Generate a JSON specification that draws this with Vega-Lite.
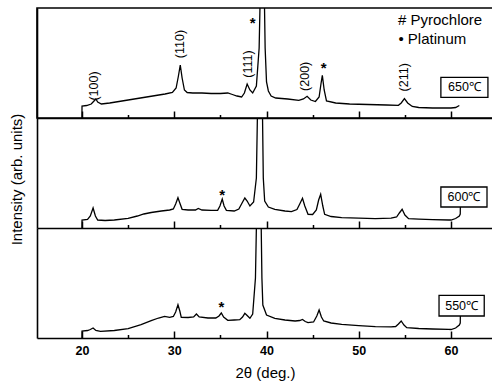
{
  "$schema": "https://vega.github.io/schema/vega-lite/v6.json",
  "padding": {"left": 8, "top": 7, "right": 0, "bottom": 0},
  "spacing": 0,
  "bounds": "flush",
  "config": {
    "font": "Liberation Sans",
    "view": {"stroke": null},
    "axis": {"labelFont": "Liberation Sans", "titleFont": "Liberation Sans", "grid": false}
  },
  "datasets": {
    "s650": [
      {"x":19.99,"y":0},{"x":20.0,"y":12},{"x":20.5,"y":12.5},{"x":21.0,"y":14},{"x":21.3,"y":17},{"x":21.5,"y":19},{"x":21.7,"y":16},{"x":22.1,"y":14},
      {"x":23,"y":15},{"x":24,"y":16.5},{"x":25,"y":18},{"x":26,"y":19.5},{"x":27,"y":21},{"x":28,"y":22.5},{"x":29,"y":24},{"x":29.8,"y":25.5},
      {"x":30.2,"y":30},{"x":30.45,"y":42},{"x":30.65,"y":53},{"x":30.85,"y":40},{"x":31.1,"y":28},{"x":31.4,"y":25.5},{"x":32,"y":25},{"x":33,"y":25},
      {"x":34,"y":24.5},{"x":35,"y":24.5},{"x":35.8,"y":25},{"x":36.3,"y":23.5},{"x":36.8,"y":22},{"x":37.3,"y":21},{"x":37.6,"y":25},{"x":37.9,"y":34},
      {"x":38.2,"y":28},{"x":38.5,"y":25},{"x":38.9,"y":32},{"x":39.2,"y":70},{"x":39.4,"y":160},{"x":39.55,"y":170},{"x":39.7,"y":160},{"x":39.85,"y":70},
      {"x":40.0,"y":36},{"x":40.2,"y":27},{"x":40.5,"y":22},{"x":41,"y":20},{"x":42.3,"y":19},{"x":43.5,"y":17.7},{"x":44.0,"y":19},{"x":44.4,"y":21.7},
      {"x":44.8,"y":18},{"x":45.3,"y":16.5},{"x":45.7,"y":21},{"x":45.9,"y":34},{"x":46.05,"y":42.7},{"x":46.25,"y":28},{"x":46.5,"y":17},{"x":47.5,"y":15},
      {"x":49,"y":14},{"x":51,"y":13.5},{"x":53,"y":13},{"x":54.3,"y":12.7},{"x":54.6,"y":15},{"x":54.95,"y":19.5},{"x":55.3,"y":15},{"x":55.8,"y":11.5},
      {"x":56.5,"y":10.5},{"x":58,"y":10},{"x":60,"y":10},{"x":60.5,"y":10.5},{"x":60.9,"y":12.5}
    ],
    "s600": [
      {"x":19.99,"y":0},{"x":20.0,"y":8},{"x":20.6,"y":8.5},{"x":20.9,"y":12},{"x":21.2,"y":20},{"x":21.45,"y":12},{"x":21.7,"y":8},{"x":22.5,"y":7.5},
      {"x":23.5,"y":8},{"x":25,"y":9.7},{"x":26,"y":12},{"x":26.7,"y":14},{"x":27.5,"y":15.5},{"x":28.6,"y":17},{"x":29.5,"y":18},{"x":29.9,"y":19},
      {"x":30.15,"y":24},{"x":30.4,"y":30.3},{"x":30.6,"y":25},{"x":30.85,"y":18.7},{"x":31.5,"y":18},{"x":32.3,"y":18},{"x":32.6,"y":19.5},{"x":33,"y":18},
      {"x":34,"y":17.7},{"x":34.7,"y":17.7},{"x":34.95,"y":22},{"x":35.2,"y":29},{"x":35.4,"y":22},{"x":35.65,"y":17.7},{"x":36.5,"y":17},{"x":37.0,"y":19},
      {"x":37.35,"y":25},{"x":37.65,"y":30},{"x":37.9,"y":27},{"x":38.2,"y":22},{"x":38.6,"y":26},{"x":38.9,"y":50},{"x":39.1,"y":160},{"x":39.3,"y":170},
      {"x":39.5,"y":160},{"x":39.65,"y":50},{"x":39.8,"y":27},{"x":40.2,"y":21},{"x":40.9,"y":18.7},{"x":42,"y":17},{"x":42.7,"y":16.3},{"x":43.3,"y":18.5},
      {"x":43.6,"y":24},{"x":43.9,"y":29.7},{"x":44.15,"y":22},{"x":44.5,"y":13.7},{"x":45.0,"y":13.5},{"x":45.4,"y":18},{"x":45.65,"y":28},{"x":45.87,"y":33.7},
      {"x":46.1,"y":22},{"x":46.3,"y":13.7},{"x":47,"y":11.5},{"x":48.15,"y":10.3},{"x":50,"y":9.8},{"x":51.8,"y":9.3},{"x":53.5,"y":9.8},{"x":54.1,"y":11},
      {"x":54.4,"y":15},{"x":54.7,"y":18.7},{"x":55.0,"y":13},{"x":55.4,"y":9.3},{"x":56.5,"y":8.8},{"x":58,"y":8.4},{"x":59.75,"y":8},{"x":60.0,"y":8},
      {"x":60.5,"y":9.5},{"x":60.9,"y":12},{"x":61.0,"y":14},{"x":61.01,"y":21}
    ],
    "s550": [
      {"x":19.99,"y":0},{"x":20.0,"y":7},{"x":20.6,"y":7.5},{"x":20.9,"y":8.5},{"x":21.2,"y":10},{"x":21.5,"y":7.5},{"x":22,"y":6.7},{"x":23.5,"y":7.5},
      {"x":25,"y":9.3},{"x":26.4,"y":13.3},{"x":27.5,"y":17.3},{"x":28.3,"y":20},{"x":28.95,"y":21.7},{"x":29.5,"y":20.7},{"x":29.9,"y":21.5},{"x":30.15,"y":26},
      {"x":30.4,"y":33.3},{"x":30.6,"y":27},{"x":30.76,"y":20.7},{"x":31.5,"y":20.5},{"x":32.1,"y":21},{"x":32.4,"y":24},{"x":32.7,"y":21},{"x":33.65,"y":20},
      {"x":34.5,"y":20},{"x":34.85,"y":22},{"x":35.1,"y":25},{"x":35.35,"y":21},{"x":35.8,"y":17.7},{"x":36.5,"y":18},{"x":37.1,"y":18.3},{"x":37.4,"y":21},
      {"x":37.65,"y":24.7},{"x":37.9,"y":22.5},{"x":38.2,"y":19.7},{"x":38.5,"y":24},{"x":38.8,"y":60},{"x":39.0,"y":160},{"x":39.15,"y":170},{"x":39.35,"y":160},
      {"x":39.5,"y":60},{"x":39.6,"y":33},{"x":40.0,"y":23},{"x":40.9,"y":19.7},{"x":42,"y":18},{"x":43.1,"y":17},{"x":43.6,"y":17.5},{"x":43.9,"y":18.5},
      {"x":44.2,"y":16.5},{"x":44.5,"y":15.3},{"x":45.1,"y":16},{"x":45.45,"y":22},{"x":45.7,"y":28},{"x":45.95,"y":21},{"x":46.2,"y":17},{"x":47,"y":15},
      {"x":48.15,"y":13.7},{"x":50,"y":12.3},{"x":51.8,"y":11.3},{"x":53.5,"y":11.2},{"x":54.0,"y":11.5},{"x":54.3,"y":14},{"x":54.6,"y":17},{"x":54.9,"y":13},
      {"x":55.2,"y":10.3},{"x":56.5,"y":9.5},{"x":58,"y":9},{"x":59.75,"y":8.7},{"x":60.0,"y":8.5},{"x":60.5,"y":10},{"x":60.9,"y":13},{"x":61.0,"y":15},{"x":61.01,"y":22}
    ],
    "hkl": [
      {"x":21.3,"y":32,"t":"(100)"},{"x":30.62,"y":74,"t":"(110)"},{"x":37.95,"y":54,"t":"(111)"},{"x":44.2,"y":41.7,"t":"(200)"},{"x":54.85,"y":40.7,"t":"(211)"}
    ],
    "star650": [{"x":38.5,"y":99.4,"t":"*"},{"x":46.2,"y":53.7,"t":"*"}],
    "star600": [{"x":35.2,"y":37,"t":"*"}],
    "star550": [{"x":35.1,"y":35,"t":"*"}],
    "legend": [{"x":54.25,"y":97.7,"t":"# Pyrochlore"},{"x":54.3,"y":78.7,"t":"•  Platinum"}],
    "box650": [{"x":58.9,"x2":64.0,"y":20.7,"y2":40.7,"xm":61.45,"ym":30.7,"t":"650℃"}],
    "box600": [{"x":58.9,"x2":63.9,"y":21,"y2":41,"xm":61.4,"ym":31,"t":"600℃"}],
    "box550": [{"x":58.7,"x2":63.6,"y":22,"y2":42.7,"xm":61.15,"ym":32.35,"t":"550℃"}]
  },
  "vconcat": [
    {
      "width": 456, "height": 110,
      "view": {"stroke": "black", "strokeWidth": 1.6},
      "resolve": {"axis": {"x": "independent"}},
      "layer": [
        {"data": {"name": "s650"}, "mark": {"type": "line", "color": "black", "strokeWidth": 1.3, "clip": true},
         "encoding": {
           "x": {"field": "x", "type": "quantitative", "scale": {"domain": [15.12, 64.55], "nice": false, "zero": false},
                 "axis": {"orient": "bottom", "values": [20,30,40,50,60], "tickSize": -7, "tickWidth": 1.5, "tickColor": "black", "domainColor": "black", "domainWidth": 1.6, "labels": false, "title": null}},
           "y": {"field": "y", "type": "quantitative", "scale": {"domain": [0, 110], "nice": false, "zero": false},
                 "axis": {"title": null, "labels": false, "ticks": false, "domainColor": "black", "domainWidth": 1.6}}}},
        {"data": {"name": "box650"}, "mark": {"type": "rect", "fill": "white", "stroke": "black", "strokeWidth": 1.3},
         "encoding": {
           "x": {"field": "x", "type": "quantitative", "axis": {"orient": "bottom", "values": [25,35,45,55], "tickSize": -3.5, "tickWidth": 1.5, "tickColor": "black", "domain": false, "labels": false, "title": null}},
           "x2": {"field": "x2"},
           "y": {"field": "y", "type": "quantitative"}, "y2": {"field": "y2"}}},
        {"data": {"name": "box650"}, "mark": {"type": "text", "fontSize": 12.5, "color": "black", "align": "center", "baseline": "middle"},
         "encoding": {"x": {"field": "xm", "type": "quantitative", "axis": null}, "y": {"field": "ym", "type": "quantitative"}, "text": {"field": "t"}}},
        {"data": {"name": "hkl"}, "mark": {"type": "text", "fontSize": 12.5, "color": "black", "angle": 270, "align": "center", "baseline": "middle"},
         "encoding": {"x": {"field": "x", "type": "quantitative", "axis": null}, "y": {"field": "y", "type": "quantitative"}, "text": {"field": "t"}}},
        {"data": {"name": "star650"}, "mark": {"type": "text", "fontSize": 15, "fontWeight": "bold", "color": "black", "align": "center", "baseline": "middle", "dy": 4},
         "encoding": {"x": {"field": "x", "type": "quantitative", "axis": null}, "y": {"field": "y", "type": "quantitative"}, "text": {"field": "t"}}},
        {"data": {"name": "legend"}, "mark": {"type": "text", "fontSize": 15, "color": "black", "align": "left", "baseline": "middle"},
         "encoding": {"x": {"field": "x", "type": "quantitative", "axis": null}, "y": {"field": "y", "type": "quantitative"}, "text": {"field": "t"}}}
      ]
    },
    {
      "width": 456, "height": 110,
      "resolve": {"axis": {"x": "independent"}},
      "layer": [
        {"data": {"name": "s600"}, "mark": {"type": "line", "color": "black", "strokeWidth": 1.3, "clip": true},
         "encoding": {
           "x": {"field": "x", "type": "quantitative", "scale": {"domain": [15.12, 64.55], "nice": false, "zero": false},
                 "axis": {"orient": "bottom", "values": [20,30,40,50,60], "tickSize": -7, "tickWidth": 1.5, "tickColor": "black", "domainColor": "black", "domainWidth": 1.6, "labels": false, "title": null}},
           "y": {"field": "y", "type": "quantitative", "scale": {"domain": [0, 110], "nice": false, "zero": false},
                 "axis": {"title": "Intensity (arb. units)", "titleFontSize": 15, "titleFontWeight": "normal", "titleColor": "black", "titlePadding": 13, "titleY": 61, "labels": false, "ticks": false, "domainColor": "black", "domainWidth": 1.6}}}},
        {"data": {"name": "box600"}, "mark": {"type": "rect", "fill": "white", "stroke": "black", "strokeWidth": 1.3},
         "encoding": {
           "x": {"field": "x", "type": "quantitative", "axis": {"orient": "bottom", "values": [25,35,45,55], "tickSize": -3.5, "tickWidth": 1.5, "tickColor": "black", "domain": false, "labels": false, "title": null}},
           "x2": {"field": "x2"},
           "y": {"field": "y", "type": "quantitative"}, "y2": {"field": "y2"}}},
        {"data": {"name": "box600"}, "mark": {"type": "text", "fontSize": 12.5, "color": "black", "align": "center", "baseline": "middle"},
         "encoding": {"x": {"field": "xm", "type": "quantitative", "axis": null}, "y": {"field": "ym", "type": "quantitative"}, "text": {"field": "t"}}},
        {"data": {"name": "star600"}, "mark": {"type": "text", "fontSize": 15, "fontWeight": "bold", "color": "black", "align": "center", "baseline": "middle", "dy": 4},
         "encoding": {"x": {"field": "x", "type": "quantitative", "axis": null}, "y": {"field": "y", "type": "quantitative"}, "text": {"field": "t"}}}
      ]
    },
    {
      "width": 456, "height": 110,
      "resolve": {"axis": {"x": "independent"}},
      "layer": [
        {"data": {"name": "s550"}, "mark": {"type": "line", "color": "black", "strokeWidth": 1.3, "clip": true},
         "encoding": {
           "x": {"field": "x", "type": "quantitative", "scale": {"domain": [15.12, 64.55], "nice": false, "zero": false},
                 "axis": {"orient": "bottom", "values": [20,30,40,50,60], "tickSize": -7, "tickWidth": 1.5, "tickColor": "black", "domainColor": "black", "domainWidth": 1.6,
                          "labels": true, "labelFontSize": 12.5, "labelFontWeight": "bold", "labelColor": "black", "labelPadding": 13,
                          "title": "2θ (deg.)", "titleFontSize": 15, "titleFontWeight": "normal", "titleColor": "black", "titlePadding": 9}},
           "y": {"field": "y", "type": "quantitative", "scale": {"domain": [0, 110], "nice": false, "zero": false},
                 "axis": {"title": null, "labels": false, "ticks": false, "domainColor": "black", "domainWidth": 1.6}}}},
        {"data": {"name": "box550"}, "mark": {"type": "rect", "fill": "white", "stroke": "black", "strokeWidth": 1.3},
         "encoding": {
           "x": {"field": "x", "type": "quantitative", "axis": {"orient": "bottom", "values": [25,35,45,55], "tickSize": -3.5, "tickWidth": 1.5, "tickColor": "black", "domain": false, "labels": false, "title": null}},
           "x2": {"field": "x2"},
           "y": {"field": "y", "type": "quantitative"}, "y2": {"field": "y2"}}},
        {"data": {"name": "box550"}, "mark": {"type": "text", "fontSize": 12.5, "color": "black", "align": "center", "baseline": "middle"},
         "encoding": {"x": {"field": "xm", "type": "quantitative", "axis": null}, "y": {"field": "ym", "type": "quantitative"}, "text": {"field": "t"}}},
        {"data": {"name": "star550"}, "mark": {"type": "text", "fontSize": 15, "fontWeight": "bold", "color": "black", "align": "center", "baseline": "middle", "dy": 4},
         "encoding": {"x": {"field": "x", "type": "quantitative", "axis": null}, "y": {"field": "y", "type": "quantitative"}, "text": {"field": "t"}}}
      ]
    }
  ]
}
